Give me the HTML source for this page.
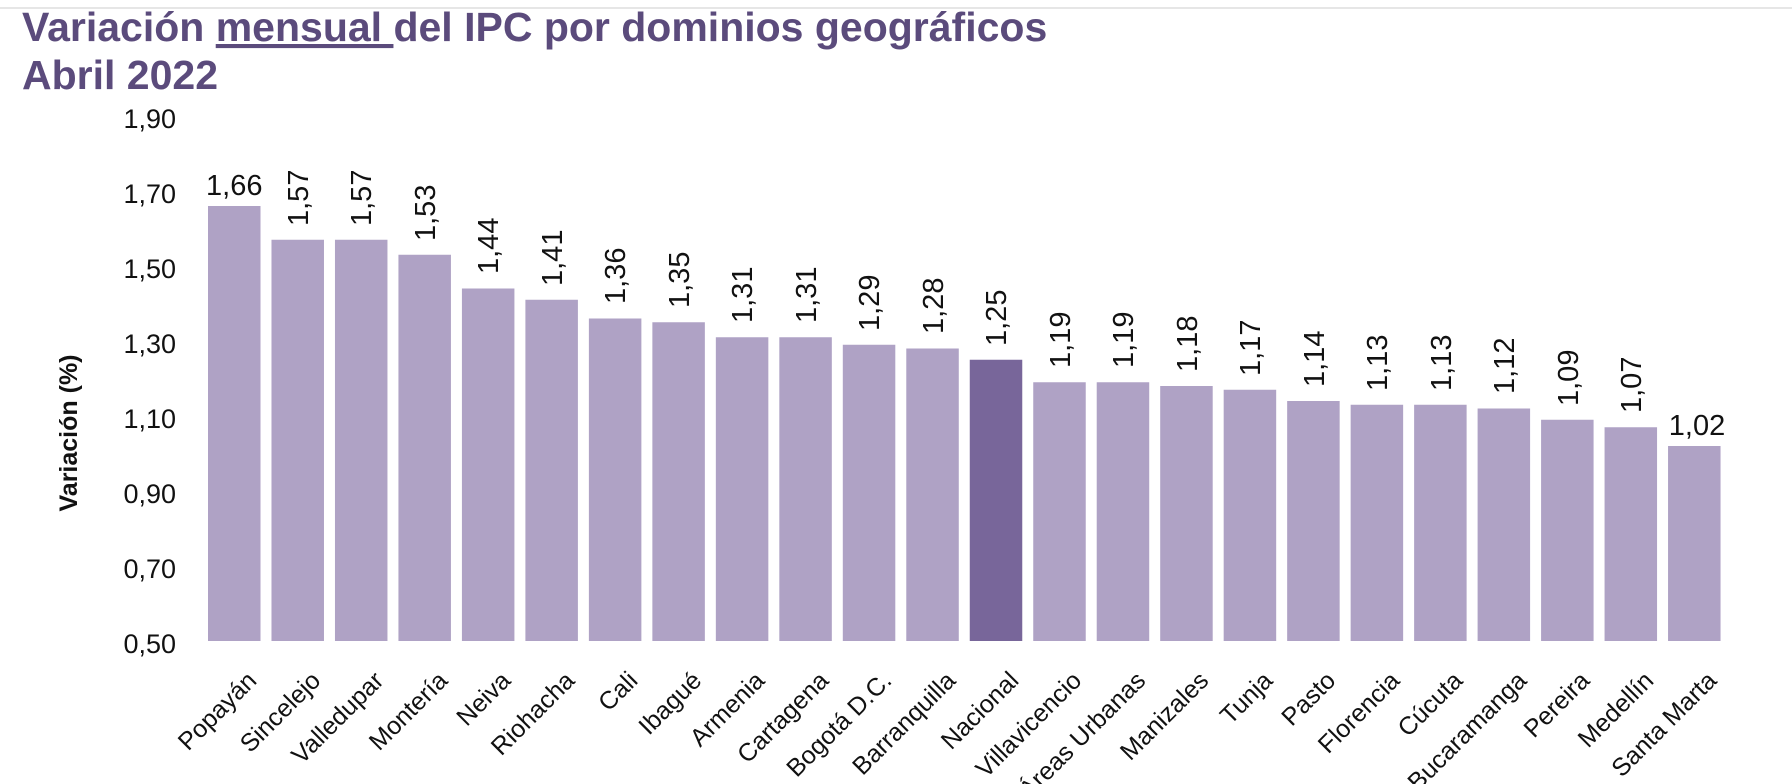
<!DOCTYPE html>
<html><head><meta charset="utf-8"><style>
html,body{margin:0;padding:0;background:#fff;}
svg{display:block;font-family:"Liberation Sans",Arial,sans-serif;}
</style></head><body>
<svg width="1792" height="784" viewBox="0 0 1792 784" xmlns="http://www.w3.org/2000/svg">
<line x1="0" y1="8" x2="1792" y2="8" stroke="#ddd" stroke-width="1.5"/>
<text x="22" y="41" font-size="41" font-weight="bold" fill="#5b4b7c">Variación <tspan text-decoration="underline">mensual </tspan>del IPC por dominios geográficos</text>
<text x="22" y="89" font-size="41" font-weight="bold" fill="#5b4b7c">Abril 2022</text>
<g font-size="27" fill="#111" text-anchor="end">
<text x="176" y="128">1,90</text>
<text x="176" y="203">1,70</text>
<text x="176" y="278">1,50</text>
<text x="176" y="353">1,30</text>
<text x="176" y="428">1,10</text>
<text x="176" y="503">0,90</text>
<text x="176" y="578">0,70</text>
<text x="176" y="653">0,50</text>
</g>
<text transform="translate(77,433) rotate(-90)" text-anchor="middle" font-size="25" font-weight="bold" fill="#111">Variación (%)</text>
<g fill="#afa2c5">
<rect x="208" y="206" width="52.5" height="435"/>
<rect x="271.48" y="239.75" width="52.5" height="401.25"/>
<rect x="334.96" y="239.75" width="52.5" height="401.25"/>
<rect x="398.44" y="254.75" width="52.5" height="386.25"/>
<rect x="461.92" y="288.5" width="52.5" height="352.5"/>
<rect x="525.4" y="299.75" width="52.5" height="341.25"/>
<rect x="588.88" y="318.5" width="52.5" height="322.5"/>
<rect x="652.36" y="322.25" width="52.5" height="318.75"/>
<rect x="715.84" y="337.25" width="52.5" height="303.75"/>
<rect x="779.32" y="337.25" width="52.5" height="303.75"/>
<rect x="842.8" y="344.75" width="52.5" height="296.25"/>
<rect x="906.28" y="348.5" width="52.5" height="292.5"/>
<rect x="969.76" y="359.75" width="52.5" height="281.25" fill="#78669a"/>
<rect x="1033.24" y="382.25" width="52.5" height="258.75"/>
<rect x="1096.72" y="382.25" width="52.5" height="258.75"/>
<rect x="1160.2" y="386" width="52.5" height="255"/>
<rect x="1223.68" y="389.75" width="52.5" height="251.25"/>
<rect x="1287.16" y="401" width="52.5" height="240"/>
<rect x="1350.64" y="404.75" width="52.5" height="236.25"/>
<rect x="1414.12" y="404.75" width="52.5" height="236.25"/>
<rect x="1477.6" y="408.5" width="52.5" height="232.5"/>
<rect x="1541.08" y="419.75" width="52.5" height="221.25"/>
<rect x="1604.56" y="427.25" width="52.5" height="213.75"/>
<rect x="1668.04" y="446" width="52.5" height="195"/>
</g>
<g font-size="29" fill="#111">
<text x="234.25" y="195" text-anchor="middle">1,66</text>
<text transform="translate(308,226) rotate(-90)">1,57</text>
<text transform="translate(371,226) rotate(-90)">1,57</text>
<text transform="translate(435,241) rotate(-90)">1,53</text>
<text transform="translate(498,274) rotate(-90)">1,44</text>
<text transform="translate(562,286) rotate(-90)">1,41</text>
<text transform="translate(625,304) rotate(-90)">1,36</text>
<text transform="translate(689,308) rotate(-90)">1,35</text>
<text transform="translate(752,323) rotate(-90)">1,31</text>
<text transform="translate(816,323) rotate(-90)">1,31</text>
<text transform="translate(879,331) rotate(-90)">1,29</text>
<text transform="translate(943,334) rotate(-90)">1,28</text>
<text transform="translate(1006,346) rotate(-90)">1,25</text>
<text transform="translate(1070,368) rotate(-90)">1,19</text>
<text transform="translate(1133,368) rotate(-90)">1,19</text>
<text transform="translate(1197,372) rotate(-90)">1,18</text>
<text transform="translate(1260,376) rotate(-90)">1,17</text>
<text transform="translate(1324,387) rotate(-90)">1,14</text>
<text transform="translate(1387,391) rotate(-90)">1,13</text>
<text transform="translate(1451,391) rotate(-90)">1,13</text>
<text transform="translate(1514,394) rotate(-90)">1,12</text>
<text transform="translate(1578,406) rotate(-90)">1,09</text>
<text transform="translate(1641,413) rotate(-90)">1,07</text>
<text x="1697" y="435" text-anchor="middle">1,02</text>
</g>
<g font-size="25" fill="#111" text-anchor="end">
<text transform="translate(258,682) rotate(-45)">Popayán</text>
<text transform="translate(322,682) rotate(-45)">Sincelejo</text>
<text transform="translate(385,682) rotate(-45)">Valledupar</text>
<text transform="translate(449,682) rotate(-45)">Montería</text>
<text transform="translate(512,682) rotate(-45)">Neiva</text>
<text transform="translate(576,682) rotate(-45)">Riohacha</text>
<text transform="translate(639,682) rotate(-45)">Cali</text>
<text transform="translate(703,682) rotate(-45)">Ibagué</text>
<text transform="translate(766,682) rotate(-45)">Armenia</text>
<text transform="translate(830,682) rotate(-45)">Cartagena</text>
<text transform="translate(893,682) rotate(-45)">Bogotá D.C.</text>
<text transform="translate(957,682) rotate(-45)">Barranquilla</text>
<text transform="translate(1020,682) rotate(-45)">Nacional</text>
<text transform="translate(1083,682) rotate(-45)">Villavicencio</text>
<text transform="translate(1147,682) rotate(-45)">Áreas Urbanas</text>
<text transform="translate(1210,682) rotate(-45)">Manizales</text>
<text transform="translate(1274,682) rotate(-45)">Tunja</text>
<text transform="translate(1337,682) rotate(-45)">Pasto</text>
<text transform="translate(1401,682) rotate(-45)">Florencia</text>
<text transform="translate(1464,682) rotate(-45)">Cúcuta</text>
<text transform="translate(1528,682) rotate(-45)">Bucaramanga</text>
<text transform="translate(1591,682) rotate(-45)">Pereira</text>
<text transform="translate(1655,682) rotate(-45)">Medellín</text>
<text transform="translate(1718,682) rotate(-45)">Santa Marta</text>
</g>
</svg>
</body></html>
